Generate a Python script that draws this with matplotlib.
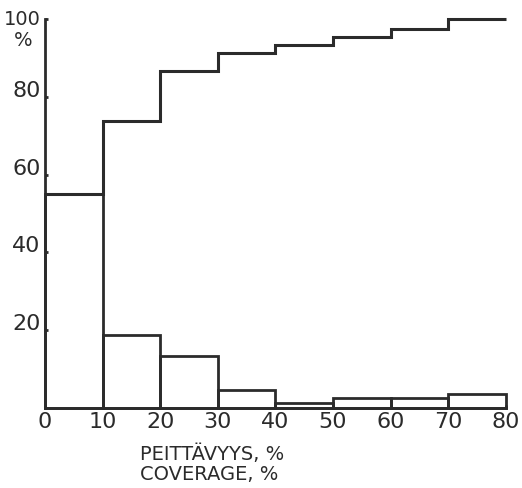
import matplotlib as mpl
mpl.use('Agg')
import matplotlib.pyplot as plt

# coverage classes, %
bin_left = [0, 10, 20, 30, 40, 50, 60, 70]
bin_width = [10, 10, 10, 10, 10, 10, 10, 10]
# share of plots per class, %
share = [55, 18.8, 13.4, 4.5, 1.4, 2.5, 2.5, 3.7]
# cumulative share, %
cum_edges = [0, 10, 20, 30, 40, 50, 60, 70, 80]
cum_share = [55, 73.8, 86.7, 91.2, 93.2, 95.3, 97.4, 100]

x_ticks = [0, 10, 20, 30, 40, 50, 60, 70, 80]
y_ticks = [20, 40, 60, 80, 100]

ink = '#2b2b2b'
plt.rcParams['font.family'] = ['DejaVu Sans']

fig = plt.figure(figsize=(5.22, 4.88), dpi=100)
ax = fig.add_axes([0.086, 0.164, 0.883, 0.797])

ax.bar(bin_left, share, width=bin_width, align='edge', fill=False,
       edgecolor=ink, linewidth=2.0, clip_on=False)
ax.stairs(cum_share, cum_edges, baseline=None, color=ink, linewidth=2.2,
          clip_on=False)

ax.set_xlim(0, 80)
ax.set_ylim(0, 100)
for s in ['top', 'right']:
  ax.spines[s].set_visible(False)
for s in ['left', 'bottom']:
  ax.spines[s].set_color(ink)
  ax.spines[s].set_linewidth(2.0)

ax.set_xticks(x_ticks)
ax.set_xticklabels([str(t) for t in x_ticks])
ax.set_yticks(y_ticks)
ax.set_yticklabels([str(t) for t in y_ticks])
ax.tick_params(direction='in', length=2, width=2, color=ink,
               labelsize=16, labelcolor=ink)
ax.tick_params(axis='y', pad=3)
ax.tick_params(axis='x', pad=3)
ylabs = ax.get_yticklabels()
for lab in ylabs:
  lab.set_va('baseline')
ylabs[-1].set_va('center')
ylabs[-1].set_fontsize(14)

# percent sign under the 100 label
ax.text(-0.048, 0.945, '%', transform=ax.transAxes, ha='center', va='center',
        fontsize=14, color=ink)

fig.text(0.268, 0.070, 'PEITTÄVYYS, %', fontsize=14, color=ink, va='center')
fig.text(0.268, 0.027, 'COVERAGE, %', fontsize=14, color=ink, va='center')

plt.savefig('out.png', dpi=100)
